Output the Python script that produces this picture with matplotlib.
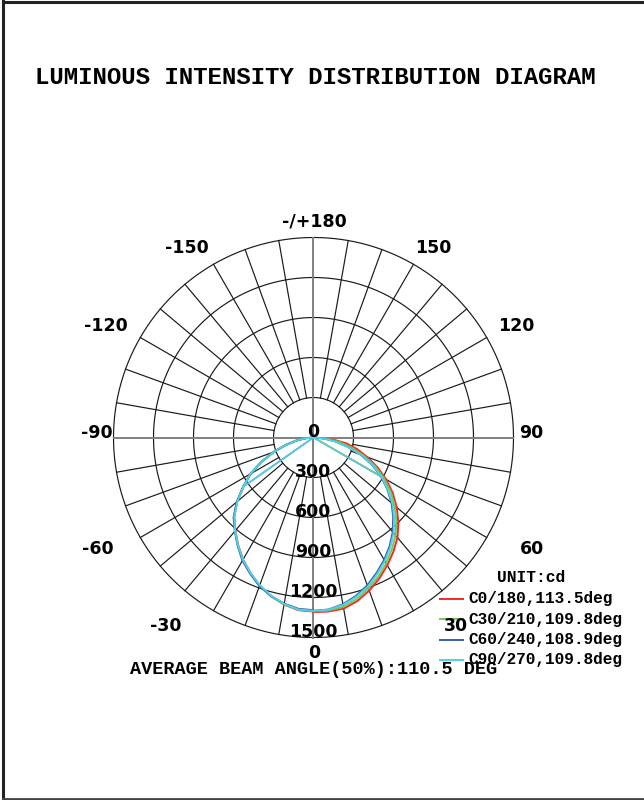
import numpy as np
import matplotlib
matplotlib.use('Agg')
import matplotlib.pyplot as plt
from matplotlib.lines import Line2D

W, H = 644, 800

# gamma angles (deg) and intensities (cd)
gamma = np.arange(0, 91, 5)

c0   = [1310, 1310, 1303, 1270, 1222, 1167, 1107, 1045, 980, 900, 815, 725, 630, 530, 430, 340, 250, 135, 0]
c30  = [1305, 1302, 1290, 1255, 1205, 1150, 1090, 1025, 958, 878, 795, 705, 610, 510, 405, 300, 205, 105, 0]
c60  = [1300, 1295, 1270, 1230, 1180, 1120, 1060, 995, 925, 845, 765, 675, 585, 485, 375, 260, 160, 75, 0]
c90  = [1300, 1297, 1275, 1238, 1190, 1130, 1070, 1005, 935, 855, 775, 680, 590, 490, 380, 260, 160, 75, 0]
c180 = [1305, 1300, 1272, 1232, 1182, 1120, 1056, 985, 912, 840, 748, 645, 548, 432, 320, 216, 130, 60, 0]
c210 = [1300, 1296, 1270, 1232, 1184, 1122, 1060, 988, 915, 842, 748, 642, 545, 430, 318, 214, 128, 58, 0]
c240 = [1295, 1290, 1265, 1230, 1185, 1126, 1066, 992, 918, 848, 752, 640, 542, 428, 316, 212, 128, 58, 0]
c270 = [1300, 1295, 1268, 1228, 1178, 1120, 1058, 988, 915, 840, 745, 640, 545, 430, 318, 215, 130, 60, 0]

labels = ['C0/180,113.5deg', 'C30/210,109.8deg', 'C60/240,108.9deg', 'C90/270,109.8deg']
colors = ['#f52828', '#78c850', '#3660b0', '#50d2e4']
right_half = [c0, c30, c60, c90]
left_half = [c180, c210, c240, c270]

# straight segments from the origin to one gamma point (right side / left side)
chord_right = [60, 60, None, 60]
chord_left = [None, None, 55, 55]

grid_r = [300, 600, 900, 1200, 1500]
angle_labels = ['-/+180', '-150', '150', '-120', '120', '-90', '90', '-60', '60', '-30', '30', '0']
angle_pos = [(314, 221), (187, 248), (433, 248), (106, 326), (516, 326), (97, 433),
             (531, 433), (98, 549), (532, 549), (166, 626), (456, 626), (314, 653)]

# polar area: centre (313.5, 437.5) px, 1500 cd = 200 px
cx, cy, R = 313.5, 437.5, 200.0
lim = 1700
half = lim * R / 1500

fig = plt.figure(figsize=(W / 100, H / 100), dpi=100)
ax = fig.add_axes([(cx - half) / W, (H - cy - half) / H, 2 * half / W, 2 * half / H])
ax.set_xlim(-lim, lim)
ax.set_ylim(-lim, lim)
ax.axis('off')

# grid circles
t = np.linspace(0, 2 * np.pi, 721)
for r in grid_r:
    ax.plot(r * np.cos(t), r * np.sin(t), color='#1a1a1a', lw=0.85, zorder=1)

# radial lines every 10 deg
for a in range(0, 360, 10):
    if a % 90 == 0:
        continue
    th = np.deg2rad(a)
    ax.plot([300 * np.sin(th), 1500 * np.sin(th)], [-300 * np.cos(th), -1500 * np.cos(th)],
            color='#1a1a1a', lw=0.85, zorder=1)

ax.plot([-1500, 1500], [0, 0], color='#808080', lw=1.4, zorder=1)
ax.plot([0, 0], [-1500, 1500], color='#808080', lw=1.4, zorder=1)

# radial value labels
for r in [0] + grid_r:
    ax.text(0, -r + 38, str(r), ha='center', va='center', fontsize=12.5,
            family='DejaVu Sans', weight='bold', color='black', zorder=3)

g = np.deg2rad(gamma)
for i in range(4):
    ir = np.array(right_half[i], dtype=float)
    il = np.array(left_half[i], dtype=float)
    x = np.concatenate([(ir * np.sin(g))[::-1], -il * np.sin(g)])
    y = np.concatenate([(-ir * np.cos(g))[::-1], -il * np.cos(g)])
    ax.plot(x, y, color=colors[i], lw=1.4, zorder=2)
    if chord_right[i] is not None:
        k = list(gamma).index(chord_right[i])
        ax.plot([0, ir[k] * np.sin(g[k])], [0, -ir[k] * np.cos(g[k])], color=colors[i], lw=1.1, zorder=2)
    if chord_left[i] is not None:
        k = list(gamma).index(chord_left[i])
        ax.plot([0, -il[k] * np.sin(g[k])], [0, -il[k] * np.cos(g[k])], color=colors[i], lw=1.1, zorder=2)

def fx(x):
    return x / W

def fy(y):
    return 1 - y / H

for s, (px, py) in zip(angle_labels, angle_pos):
    fig.text(fx(px), fy(py), s, ha='center', va='center', fontsize=12.5,
             family='DejaVu Sans', weight='bold')

mono = 'Liberation Mono'
fig.text(fx(35), fy(77), 'LUMINOUS INTENSITY DISTRIBUTION DIAGRAM', ha='left', va='center',
         fontsize=17.3, family=mono, weight='bold')
fig.text(fx(314), fy(669), 'AVERAGE BEAM ANGLE(50%):110.5 DEG', ha='center', va='center',
         fontsize=13.3, family=mono, weight='bold')

# legend
fig.text(fx(531), fy(577), 'UNIT:cd', ha='center', va='center', fontsize=11.7, family=mono, weight='bold')
for i, lab in enumerate(labels):
    yy = 599 + i * 20.3
    fig.add_artist(Line2D([fx(440), fx(463)], [fy(yy), fy(yy)], color=colors[i], lw=1.4))
    fig.text(fx(468), fy(yy), lab, ha='left', va='center', fontsize=11.6, family=mono, weight='bold')

# frame (left, top, bottom)
fig.add_artist(Line2D([fx(3), fx(3)], [fy(0), fy(799)], color='#222222', lw=2.2))
fig.add_artist(Line2D([fx(3), fx(644)], [fy(1.5), fy(1.5)], color='#222222', lw=2.2))
fig.add_artist(Line2D([fx(3), fx(644)], [fy(798.5), fy(798.5)], color='#444444', lw=2.0))

fig.savefig('out.png', dpi=100, facecolor='white')
